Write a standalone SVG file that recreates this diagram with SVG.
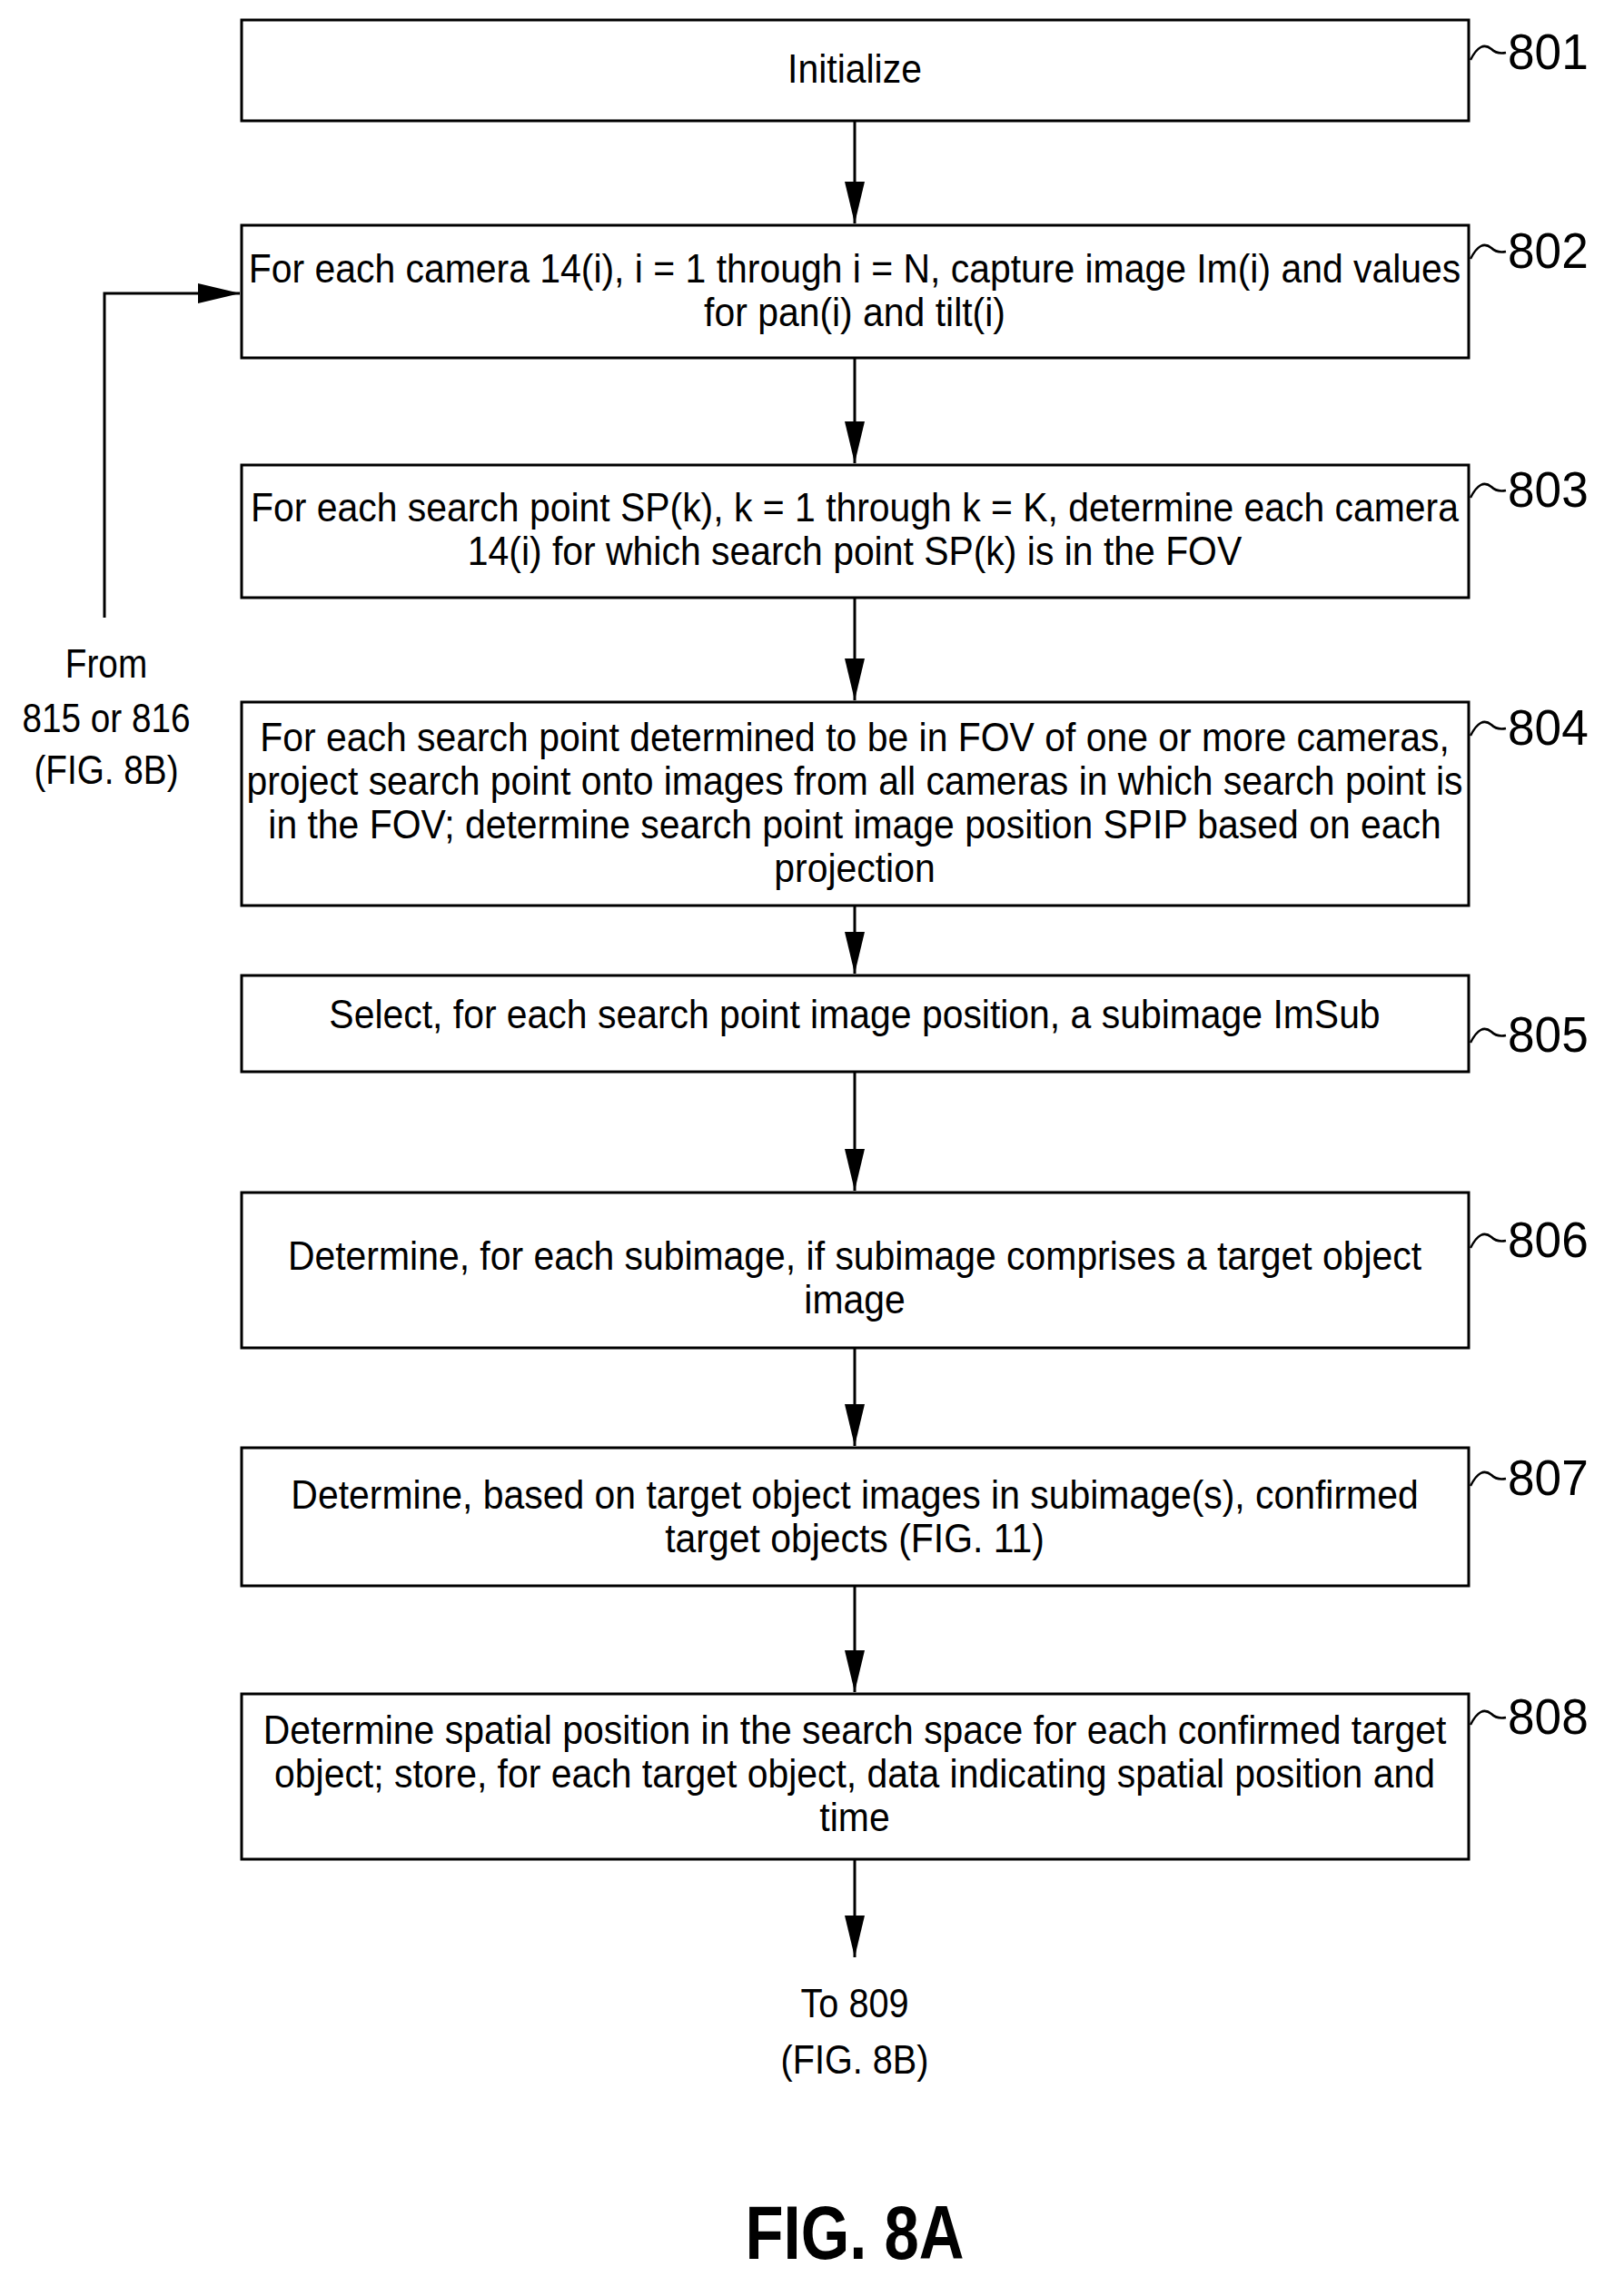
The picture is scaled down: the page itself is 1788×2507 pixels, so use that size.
<svg xmlns="http://www.w3.org/2000/svg" width="1788" height="2507" viewBox="0 0 1788 2507">
<style>
.b{fill:#fff;stroke:#000;stroke-width:3}
.t{font-family:"Liberation Sans",Arial,sans-serif;font-size:44px;text-anchor:middle;fill:#000}
.l{font-family:"Liberation Sans",Arial,sans-serif;font-size:56px;fill:#000}
.c{fill:none;stroke:#000;stroke-width:3}
.s{fill:none;stroke:#000;stroke-width:2.5}
</style>
<defs><marker id="a" markerWidth="46" markerHeight="22" refX="46" refY="11" orient="auto" markerUnits="userSpaceOnUse" viewBox="0 0 46 22"><path d="M0,0 L46,11 L0,22 z" fill="#000"/></marker></defs>
<rect width="1788" height="2507" fill="#fff"/>
<g id="connectors">
<line class="c" x1="941" y1="133" x2="941" y2="246" marker-end="url(#a)"/>
<line class="c" x1="941" y1="394" x2="941" y2="510" marker-end="url(#a)"/>
<line class="c" x1="941" y1="658" x2="941" y2="771" marker-end="url(#a)"/>
<line class="c" x1="941" y1="997" x2="941" y2="1072" marker-end="url(#a)"/>
<line class="c" x1="941" y1="1180" x2="941" y2="1311" marker-end="url(#a)"/>
<line class="c" x1="941" y1="1484" x2="941" y2="1592" marker-end="url(#a)"/>
<line class="c" x1="941" y1="1746" x2="941" y2="1863" marker-end="url(#a)"/>
<line class="c" x1="941" y1="2047" x2="941" y2="2155" marker-end="url(#a)"/>
<polyline class="c" points="115,680 115,323 264,323" marker-end="url(#a)"/>
</g>
<g id="n801"><rect class="b" x="266" y="22" width="1351" height="111"/><g transform="translate(941,0) scale(0.93,1)"><text class="t" x="0" y="91">Initialize</text></g></g>
<g id="n802"><rect class="b" x="266" y="248" width="1351" height="146"/><g transform="translate(941,0) scale(0.93,1)"><text class="t" x="0" y="311">For each camera 14(i), i = 1 through i = N, capture image Im(i) and values</text><text class="t" x="0" y="359">for pan(i) and tilt(i)</text></g></g>
<g id="n803"><rect class="b" x="266" y="512" width="1351" height="146"/><g transform="translate(941,0) scale(0.93,1)"><text class="t" x="0" y="574">For each search point SP(k), k = 1 through k = K, determine each camera</text><text class="t" x="0" y="622">14(i) for which search point SP(k) is in the FOV</text></g></g>
<g id="n804"><rect class="b" x="266" y="773" width="1351" height="224"/><g transform="translate(941,0) scale(0.93,1)"><text class="t" x="0" y="827">For each search point determined to be in FOV of one or more cameras,</text><text class="t" x="0" y="875">project search point onto images from all cameras in which search point is</text><text class="t" x="0" y="923">in the FOV; determine search point image position SPIP based on each</text><text class="t" x="0" y="971">projection</text></g></g>
<g id="n805"><rect class="b" x="266" y="1074" width="1351" height="106"/><g transform="translate(941,0) scale(0.93,1)"><text class="t" x="0" y="1132">Select, for each search point image position, a subimage ImSub</text></g></g>
<g id="n806"><rect class="b" x="266" y="1313" width="1351" height="171"/><g transform="translate(941,0) scale(0.93,1)"><text class="t" x="0" y="1398">Determine, for each subimage, if subimage comprises a target object</text><text class="t" x="0" y="1446">image</text></g></g>
<g id="n807"><rect class="b" x="266" y="1594" width="1351" height="152"/><g transform="translate(941,0) scale(0.93,1)"><text class="t" x="0" y="1661">Determine, based on target object images in subimage(s), confirmed</text><text class="t" x="0" y="1709">target objects (FIG. 11)</text></g></g>
<g id="n808"><rect class="b" x="266" y="1865" width="1351" height="182"/><g transform="translate(941,0) scale(0.93,1)"><text class="t" x="0" y="1920">Determine spatial position in the search space for each confirmed target</text><text class="t" x="0" y="1968">object; store, for each target object, data indicating spatial position and</text><text class="t" x="0" y="2016">time</text></g></g>
<g id="to809"><g transform="translate(941,0) scale(0.9,1)"><text class="t" x="0" y="2221">To 809</text><text class="t" x="0" y="2283">(FIG. 8B)</text></g></g>
<g id="from"><g transform="translate(117,0) scale(0.88,1)"><text class="t" x="0" y="746">From</text><text class="t" x="0" y="806">815 or 816</text><text class="t" x="0" y="863">(FIG. 8B)</text></g></g>
<g id="refs">
<path class="s" d="M1619,66 Q1630,44 1642,54 Q1648,60 1658,58"/><g transform="translate(1660,0) scale(0.95,1)"><text class="l" x="0" y="76">801</text></g>
<path class="s" d="M1619,285 Q1630,263 1642,273 Q1648,279 1658,277"/><g transform="translate(1660,0) scale(0.95,1)"><text class="l" x="0" y="295">802</text></g>
<path class="s" d="M1619,548 Q1630,526 1642,536 Q1648,542 1658,540"/><g transform="translate(1660,0) scale(0.95,1)"><text class="l" x="0" y="558">803</text></g>
<path class="s" d="M1619,810 Q1630,788 1642,798 Q1648,804 1658,802"/><g transform="translate(1660,0) scale(0.95,1)"><text class="l" x="0" y="820">804</text></g>
<path class="s" d="M1619,1148 Q1630,1126 1642,1136 Q1648,1142 1658,1140"/><g transform="translate(1660,0) scale(0.95,1)"><text class="l" x="0" y="1158">805</text></g>
<path class="s" d="M1619,1374 Q1630,1352 1642,1362 Q1648,1368 1658,1366"/><g transform="translate(1660,0) scale(0.95,1)"><text class="l" x="0" y="1384">806</text></g>
<path class="s" d="M1619,1636 Q1630,1614 1642,1624 Q1648,1630 1658,1628"/><g transform="translate(1660,0) scale(0.95,1)"><text class="l" x="0" y="1646">807</text></g>
<path class="s" d="M1619,1899 Q1630,1877 1642,1887 Q1648,1893 1658,1891"/><g transform="translate(1660,0) scale(0.95,1)"><text class="l" x="0" y="1909">808</text></g>
</g>
<g id="title"><g transform="translate(941,0) scale(0.82,1)"><text class="t" x="0" y="2487" style="font-size:84px;font-weight:bold">FIG. 8A</text></g></g>
</svg>
